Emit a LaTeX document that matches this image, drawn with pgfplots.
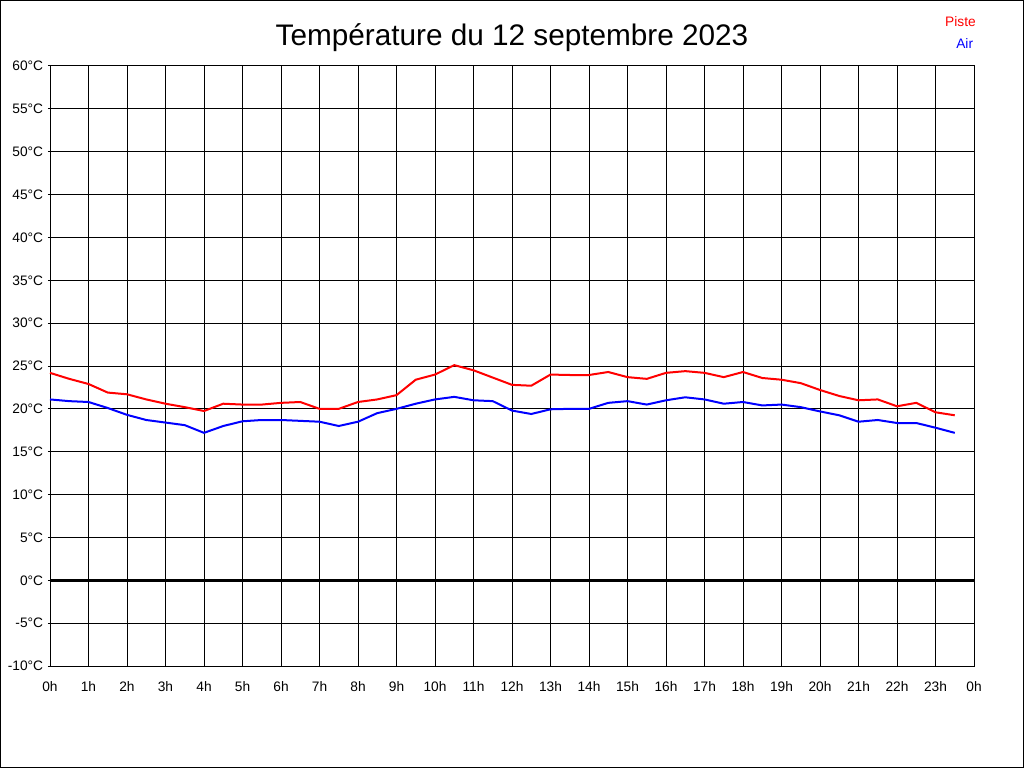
\documentclass[border=0pt]{standalone}
\usepackage{pgfplots}
\pgfplotsset{compat=1.18}
\usepackage{pgfplotstable}
\usepackage{fontspec}
\setmainfont{Liberation Sans}
\pgfplotstableread{
t piste air
0 24.2 21.1
0.5 23.5 20.9
1 22.9 20.8
1.5 21.9 20.1
2 21.7 19.3
2.5 21.1 18.7
3 20.6 18.4
3.5 20.2 18.1
4 19.75 17.2
4.5 20.6 18.0
5 20.5 18.55
5.5 20.5 18.7
6 20.7 18.7
6.5 20.8 18.6
7 20.0 18.5
7.5 20.0 18.0
8 20.8 18.5
8.5 21.1 19.5
9 21.6 20.0
9.5 23.4 20.6
10 24.0 21.1
10.5 25.1 21.4
11 24.5 21.0
11.5 23.65 20.9
12 22.8 19.8
12.5 22.7 19.4
13 24.0 19.95
13.5 23.95 20.0
14 23.95 20.0
14.5 24.3 20.7
15 23.7 20.9
15.5 23.5 20.5
16 24.2 21.0
16.5 24.4 21.35
17 24.2 21.1
17.5 23.7 20.6
18 24.3 20.8
18.5 23.6 20.4
19 23.4 20.5
19.5 23.0 20.2
20 22.2 19.7
20.5 21.5 19.25
21 21.0 18.5
21.5 21.1 18.7
22 20.3 18.35
22.5 20.7 18.35
23 19.6 17.8
23.5 19.25 17.2
}\temps
\begin{document}
\begin{tikzpicture}
\useasboundingbox (0,0) rectangle (768pt,576pt);
\fill[white] (0,0) rectangle (768pt,576pt);
\draw[black, line width=0.75pt] (0.375pt,0.375pt) rectangle (767.625pt,575.625pt);
\node[font=\fontsize{22.3}{26}\selectfont, inner sep=0pt] at (384pt,548pt) {Température du 12 septembre 2023};
\node[anchor=east, text=red, font=\fontsize{10.3}{12}\selectfont, inner sep=0pt] at (732pt,559.8pt) {Piste};
\node[anchor=east, text=blue, font=\fontsize{10.3}{12}\selectfont, inner sep=0pt] at (730pt,543.3pt) {Air};
\begin{axis}[
  at={(37.5pt,76.5pt)}, anchor=south west,
  scale only axis, width=693pt, height=450pt,
  xmin=0, xmax=24, ymin=-10, ymax=60,
  xtick={0,1,...,24},
  xticklabels={0h,1h,2h,3h,4h,5h,6h,7h,8h,9h,10h,11h,12h,13h,14h,15h,16h,17h,18h,19h,20h,21h,22h,23h,0h},
  ytick={-10,-5,...,60},
  yticklabels={-10°C,-5°C,0°C,5°C,10°C,15°C,20°C,25°C,30°C,35°C,40°C,45°C,50°C,55°C,60°C},
  grid=major,
  grid style={black, line width=0.75pt},
  axis line style={black, line width=0.75pt},
  tick style={black, line width=0.75pt},
  major tick length=1.5pt,
  x tick style={draw=none},
  tick align=outside,
  ytick pos=left, xtick pos=bottom,
  ticklabel style={font=\fontsize{10.3}{12}\selectfont, inner sep=0pt},
  yticklabel style={xshift=-3.5pt},
  xticklabel style={yshift=-10.3pt},
  clip=false,
]
\addplot[black, line width=2.25pt] coordinates {(0,0) (24,0)};
\addplot[red, line width=1.5pt] table[x=t, y=piste] {\temps};
\addplot[blue, line width=1.5pt] table[x=t, y=air] {\temps};
\end{axis}
\end{tikzpicture}
\end{document}
